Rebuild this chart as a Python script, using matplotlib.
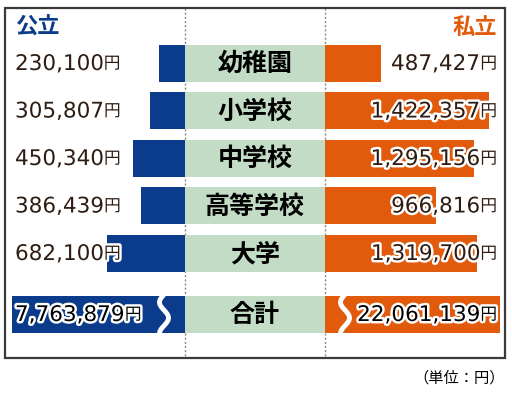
import numpy as np
import matplotlib.pyplot as plt
import matplotlib.patheffects as pe
from matplotlib.patches import Rectangle

plt.rcParams['font.family'] = ['Noto Sans CJK JP', 'DejaVu Sans']

categories = ['幼稚園', '小学校', '中学校', '高等学校', '大学', '合計']
public = [230100, 305807, 450340, 386439, 682100, 7763879]
private = [487427, 1422357, 1295156, 966816, 1319700, 22061139]

BLUE = '#0b3c8c'
ORANGE = '#e25a0c'
GREEN = '#c3dcc6'
TXT = '#2e1c12'

fig = plt.figure(figsize=(5.12, 3.96), dpi=100)
ax = fig.add_axes([0, 0, 1, 1])
ax.set_xlim(0, 512)
ax.set_ylim(396, 0)
ax.axis('off')

# layout in pixels
left_c, right_c = 185, 325
scale = 1.15e-4
rows = [63, 110.5, 158, 205.5, 253, 314]
bh = 37
cap_l, cap_r = left_c - 12, 500 - right_c

# frame and dotted guides
ax.add_patch(Rectangle((5, 8), 500, 350, fill=False, lw=1.6, ec='#3a3a3a', zorder=5))
for xv in (left_c, right_c):
    ax.plot([xv, xv], [8, 358], color='#888888', lw=1, ls=(0, (1.5, 1.5)), zorder=1)

pub_w = [min(v * scale, cap_l) for v in public]
prv_w = [min(v * scale, cap_r) for v in private]
ax.barh(rows, pub_w, left=[left_c - w for w in pub_w], height=bh, color=BLUE, zorder=2)
ax.barh(rows, prv_w, left=right_c, height=bh, color=ORANGE, zorder=2)
ax.barh(rows, right_c - left_c, left=left_c, height=bh, color=GREEN, zorder=2)

# broken-bar waves on totals
yy = np.linspace(rows[-1] - bh / 2 - 1, rows[-1] + bh / 2 + 1, 60)
t = (yy - yy[0]) / (yy[-1] - yy[0])
for xc in (164, 345):
    ax.plot(xc - 4.5 * np.sin(2 * np.pi * 1.25 * t), yy, color='white', lw=3.5,
            solid_capstyle='butt', zorder=3)

stroke = [pe.withStroke(linewidth=3.5, foreground='white')]
num_font = ['DejaVu Sans']

for i, (cat, pv, rv) in enumerate(zip(categories, public, private)):
    y = rows[i]
    col = 'black' if i == len(categories) - 1 else TXT
    ax.text((left_c + right_c) / 2, y + 1, cat, ha='center', va='center',
            fontsize=18, fontweight='bold', color='black', zorder=4)
    tl = ax.text(15, y + 1, f'{pv:,}', ha='left', va='center', fontsize=15.5,
                 family=num_font, color=col, path_effects=stroke, zorder=4)
    ax.annotate('円', xy=(1, 0.5), xycoords=tl, ha='left', va='center',
                fontsize=12, color=col, path_effects=stroke, zorder=4)
    ty = ax.text(497, y + 1, '円', ha='right', va='center', fontsize=12,
                 color=col, path_effects=stroke, zorder=4)
    ax.annotate(f'{rv:,}', xy=(0, 0.5), xycoords=ty, ha='right', va='center',
                fontsize=15.5, family=num_font, color=col, path_effects=stroke, zorder=4)

ax.text(15, 27, '公立', ha='left', va='center', fontsize=16, fontweight='bold', color=BLUE)
ax.text(497, 27, '私立', ha='right', va='center', fontsize=16, fontweight='bold', color=ORANGE)
ax.text(505, 378, '（単位：円）', ha='right', va='center', fontsize=11, color='black')

fig.savefig('out.png', dpi=100)
